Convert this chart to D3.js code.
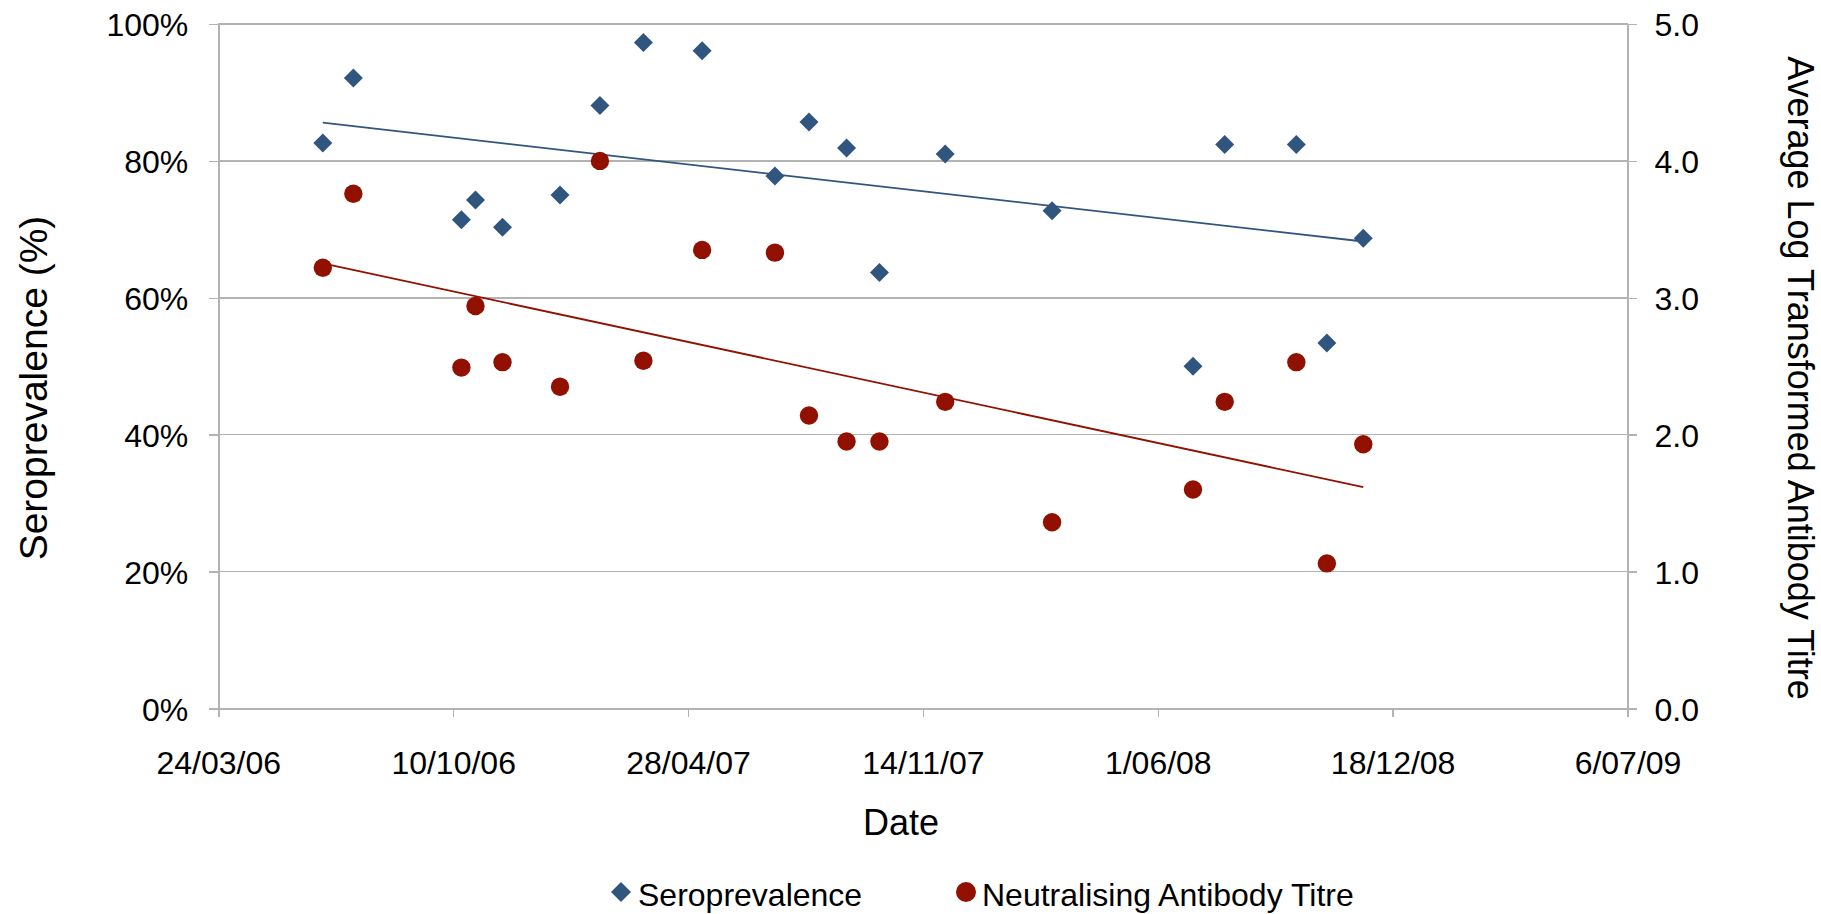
<!DOCTYPE html>
<html lang="en">
<head>
    <meta charset="UTF-8">
    <title>Seroprevalence and Neutralising Antibody Titre</title>
    <script src="https://d3js.org/d3.v7.min.js"></script>
    <style>
        body {
            margin: 0;
            padding: 0;
            background-color: #ffffff;
        }

        svg text {
            font-family: "Liberation Sans", Arial, sans-serif;
            fill: #000;
        }

        .axis path, .axis line {
            stroke: #b3b3b3;
            stroke-width: 1.5;
            shape-rendering: crispEdges;
        }

        .grid line {
            stroke: #b3b3b3;
            stroke-width: 1.5;
            shape-rendering: crispEdges;
        }
    </style>
</head>
<body>
    <svg id="chart"></svg>

    <script>
        // sampling dates (one per survey) and the two measured series
        const sampleDates = [
            "2006-06-21", "2006-07-17", "2006-10-17", "2006-10-29", "2006-11-21",
            "2007-01-09", "2007-02-12", "2007-03-21", "2007-05-10", "2007-07-11",
            "2007-08-09", "2007-09-10", "2007-10-08", "2007-12-03", "2008-03-03",
            "2008-07-01", "2008-07-28", "2008-09-27", "2008-10-23", "2008-11-23"
        ];
        const seroprevalence = [
            82.6, 92.1, 71.4, 74.3, 70.3,
            75.0, 88.1, 97.3, 96.1, 77.8,
            85.7, 81.9, 63.7, 81.0, 72.7,
            50.0, 82.4, 82.4, 53.4, 68.7
        ];
        const titre = [
            3.22, 3.76, 2.49, 2.94, 2.53,
            2.35, 4.00, 2.54, 3.35, 3.33,
            2.14, 1.95, 1.95, 2.24, 1.36,
            1.60, 2.24, 2.53, 1.06, 1.93
        ];

        const xTickLabels = ["24/03/06", "10/10/06", "28/04/07", "14/11/07", "1/06/08", "18/12/08", "6/07/09"];
        const leftTicks = [0, 20, 40, 60, 80, 100];
        const rightTicks = [0, 1, 2, 3, 4, 5];
        const seriesNames = ["Seroprevalence", "Neutralising Antibody Titre"];

        const blue = "#30557f";
        const red = "#921000";

        const width = 1821;
        const height = 914;
        const plot = { left: 218.3, right: 1627.5, top: 24, bottom: 708.5 };

        const svg = d3.select("#chart")
            .attr("width", width)
            .attr("height", height);

        const parseDate = d3.utcParse("%Y-%m-%d");
        const parseTick = d3.utcParse("%d/%m/%y");
        const tickDates = xTickLabels.map(parseTick);
        const dates = sampleDates.map(parseDate);

        const x = d3.scaleUtc()
            .domain([tickDates[0], tickDates[tickDates.length - 1]])
            .range([plot.left, plot.right]);

        const yLeft = d3.scaleLinear().domain([0, 100]).range([plot.bottom, plot.top]);
        const yRight = d3.scaleLinear().domain([0, 5]).range([plot.bottom, plot.top]);

        // horizontal gridlines
        svg.append("g")
            .attr("class", "grid")
            .selectAll("line")
            .data(leftTicks)
            .join("line")
            .attr("x1", plot.left)
            .attr("x2", plot.right)
            .attr("y1", d => yLeft(d))
            .attr("y2", d => yLeft(d));

        // axes
        const xAxis = svg.append("g")
            .attr("class", "axis")
            .attr("transform", `translate(0,${plot.bottom})`)
            .call(d3.axisBottom(x)
                .tickValues(tickDates)
                .tickFormat((d, i) => xTickLabels[i])
                .tickSize(8)
                .tickSizeOuter(0)
                .tickPadding(35));
        xAxis.selectAll("text").attr("font-size", "32px");

        const leftAxis = svg.append("g")
            .attr("class", "axis")
            .attr("transform", `translate(${plot.left},0)`)
            .call(d3.axisLeft(yLeft)
                .tickValues(leftTicks)
                .tickFormat(d => d + "%")
                .tickSize(9)
                .tickSizeOuter(0)
                .tickPadding(21));
        leftAxis.selectAll("text").attr("font-size", "32px").attr("dy", "0.36em");

        const rightAxis = svg.append("g")
            .attr("class", "axis")
            .attr("transform", `translate(${plot.right},0)`)
            .call(d3.axisRight(yRight)
                .tickValues(rightTicks)
                .tickFormat(d3.format(".1f"))
                .tickSize(9)
                .tickSizeOuter(0)
                .tickPadding(18));
        rightAxis.selectAll("text").attr("font-size", "32px").attr("dy", "0.36em");

        // axis titles
        svg.append("text")
            .attr("x", 901)
            .attr("y", 835)
            .attr("text-anchor", "middle")
            .attr("font-size", "36px")
            .text("Date");

        svg.append("text")
            .attr("transform", "translate(47,388) rotate(-90)")
            .attr("text-anchor", "middle")
            .attr("font-size", "39px")
            .text("Seroprevalence (%)");

        svg.append("text")
            .attr("transform", "translate(1788,378) rotate(90)")
            .attr("text-anchor", "middle")
            .attr("font-size", "36px")
            .text("Average Log Transformed Antibody Titre");

        // least-squares trend lines, drawn over the sampled date range
        function trend(values, yScale) {
            const xs = dates.map(d => +d);
            const mx = d3.mean(xs), my = d3.mean(values);
            const slope = d3.sum(xs, (v, i) => (v - mx) * (values[i] - my)) /
                d3.sum(xs, v => (v - mx) * (v - mx));
            const ends = d3.extent(dates);
            return ends.map(d => [x(d), yScale(my + slope * (+d - mx))]);
        }

        svg.append("path")
            .attr("d", d3.line()(trend(seroprevalence, yLeft)))
            .attr("fill", "none")
            .attr("stroke", blue)
            .attr("stroke-width", 1.8);

        svg.append("path")
            .attr("d", d3.line()(trend(titre, yRight)))
            .attr("fill", "none")
            .attr("stroke", red)
            .attr("stroke-width", 1.8);

        // markers
        const diamond = d3.symbol().type(d3.symbolSquare).size(2 * 9.5 * 9.5);

        svg.append("g")
            .selectAll("path")
            .data(seroprevalence)
            .join("path")
            .attr("d", diamond)
            .attr("fill", blue)
            .attr("transform", (d, i) => `translate(${x(dates[i])},${yLeft(d)}) rotate(45)`);

        svg.append("g")
            .selectAll("circle")
            .data(titre)
            .join("circle")
            .attr("cx", (d, i) => x(dates[i]))
            .attr("cy", d => yRight(d))
            .attr("r", 9.2)
            .attr("fill", red);

        // legend
        const legend = svg.append("g");
        legend.append("path")
            .attr("d", d3.symbol().type(d3.symbolSquare).size(2 * 10 * 10)())
            .attr("fill", blue)
            .attr("transform", "translate(621,892) rotate(45)");
        legend.append("text")
            .attr("x", 638)
            .attr("y", 906)
            .attr("font-size", "32px")
            .text(seriesNames[0]);
        legend.append("circle")
            .attr("cx", 966)
            .attr("cy", 892)
            .attr("r", 10)
            .attr("fill", red);
        legend.append("text")
            .attr("x", 982)
            .attr("y", 906)
            .attr("font-size", "32px")
            .text(seriesNames[1]);
    </script>
</body>
</html>
